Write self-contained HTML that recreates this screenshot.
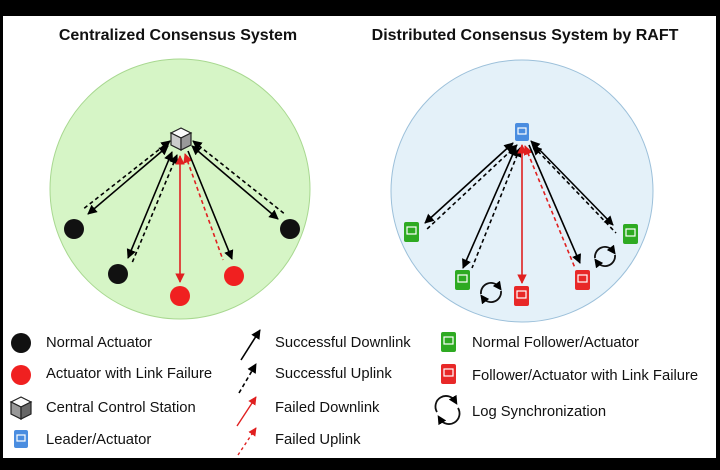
<!DOCTYPE html>
<html><head><meta charset="utf-8"><style>
html,body{margin:0;padding:0;background:#000;}
body{width:720px;height:470px;overflow:hidden;position:relative;font-family:"Liberation Sans",sans-serif;}
</style></head><body>
<svg width="720" height="470" viewBox="0 0 720 470" xmlns="http://www.w3.org/2000/svg" style="position:absolute;left:0;top:0">
<defs>
<marker id="ab" viewBox="0 0 10 10" refX="9" refY="5" markerWidth="6" markerHeight="6" orient="auto-start-reverse"><path d="M0,0 L10,5 L0,10 z" fill="#000"/></marker>
<marker id="ar" viewBox="0 0 10 10" refX="9" refY="5" markerWidth="6" markerHeight="6" orient="auto-start-reverse"><path d="M0,0 L10,5 L0,10 z" fill="#e02020"/></marker>
<marker id="as" viewBox="0 0 10 10" refX="5" refY="5" markerWidth="5" markerHeight="5" orient="auto"><path d="M0,0 L10,5 L0,10 z" fill="#000"/></marker>
</defs>
<rect x="3" y="16" width="713" height="442" fill="#fff"/>
<text x="178" y="40" text-anchor="middle" font-size="16" font-weight="bold" fill="#111">Centralized Consensus System</text>
<text x="525" y="40" text-anchor="middle" font-size="16" font-weight="bold" fill="#111">Distributed Consensus System by RAFT</text>
<circle cx="180" cy="189" r="130" fill="#d6f5c6" stroke="#a8d890" stroke-width="1"/>
<circle cx="522" cy="191" r="131" fill="#e4f1f9" stroke="#9cc0da" stroke-width="1"/>
<g stroke-width="1.6" fill="none">
<line x1="168" y1="146" x2="88" y2="214" stroke="#000" marker-start="url(#ab)" marker-end="url(#ab)"/>
<line x1="170" y1="141" x2="82" y2="210" stroke="#000" stroke-dasharray="4,3" marker-start="url(#ab)"/>
<line x1="172" y1="152" x2="128" y2="258" stroke="#000" marker-start="url(#ab)" marker-end="url(#ab)"/>
<line x1="177" y1="155" x2="132" y2="263" stroke="#000" stroke-dasharray="4,3" marker-start="url(#ab)"/>
<line x1="180" y1="156" x2="180" y2="282" stroke="#e02020" marker-start="url(#ar)" marker-end="url(#ar)"/>
<line x1="185" y1="154" x2="223" y2="260" stroke="#e02020" stroke-dasharray="4,3" marker-start="url(#ar)"/>
<line x1="188" y1="151" x2="232" y2="259" stroke="#000" marker-end="url(#ab)"/>
<line x1="192" y1="146" x2="278" y2="219" stroke="#000" marker-start="url(#ab)" marker-end="url(#ab)"/>
<line x1="193" y1="141" x2="286" y2="215" stroke="#000" stroke-dasharray="4,3" marker-start="url(#ab)"/>
<line x1="513" y1="143" x2="425" y2="223" stroke="#000" marker-start="url(#ab)" marker-end="url(#ab)"/>
<line x1="517" y1="145" x2="426" y2="230" stroke="#000" stroke-dasharray="4,3" marker-start="url(#ab)"/>
<line x1="516" y1="147" x2="463" y2="268" stroke="#000" marker-start="url(#ab)" marker-end="url(#ab)"/>
<line x1="520" y1="148" x2="472" y2="268" stroke="#000" stroke-dasharray="4,3" marker-start="url(#ab)"/>
<line x1="522" y1="145" x2="522" y2="283" stroke="#e02020" marker-start="url(#ar)" marker-end="url(#ar)"/>
<line x1="525" y1="146" x2="575" y2="268" stroke="#e02020" stroke-dasharray="4,3" marker-start="url(#ar)"/>
<line x1="529" y1="145" x2="580" y2="263" stroke="#000" marker-end="url(#ab)"/>
<line x1="531" y1="141" x2="613" y2="225" stroke="#000" marker-start="url(#ab)" marker-end="url(#ab)"/>
<line x1="533" y1="146" x2="616" y2="233" stroke="#000" stroke-dasharray="4,3" marker-start="url(#ab)"/>
</g>
<circle cx="74" cy="229" r="10" fill="#111"/>
<circle cx="118" cy="274" r="10" fill="#111"/>
<circle cx="290" cy="229" r="10" fill="#111"/>
<circle cx="180" cy="296" r="10" fill="#f02020"/>
<circle cx="234" cy="276" r="10" fill="#f02020"/>
<g transform="translate(181,139)" stroke="#222" stroke-width="1.2">
<path d="M0,-11 L10,-6 L0,-1 L-10,-6 z" fill="#fafafa"/>
<path d="M-10,-6 L0,-1 L0,11 L-10,6 z" fill="#ccc"/>
<path d="M10,-6 L0,-1 L0,11 L10,6 z" fill="#999"/>
</g>
<g>
<rect x="515" y="123" width="14" height="18" rx="2" fill="#4a8de0"/><rect x="518" y="128" width="8" height="6" fill="none" stroke="#fff" stroke-width="1.2"/>
<rect x="404" y="222" width="15" height="20" rx="2" fill="#2eaa22"/><rect x="407" y="227" width="9" height="7" fill="none" stroke="#fff" stroke-width="1.2"/>
<rect x="455" y="270" width="15" height="20" rx="2" fill="#2eaa22"/><rect x="458" y="275" width="9" height="7" fill="none" stroke="#fff" stroke-width="1.2"/>
<rect x="623" y="224" width="15" height="20" rx="2" fill="#2eaa22"/><rect x="626" y="229" width="9" height="7" fill="none" stroke="#fff" stroke-width="1.2"/>
<rect x="514" y="286" width="15" height="20" rx="2" fill="#e82828"/><rect x="517" y="291" width="9" height="7" fill="none" stroke="#fff" stroke-width="1.2"/>
<rect x="575" y="270" width="15" height="20" rx="2" fill="#e82828"/><rect x="578" y="275" width="9" height="7" fill="none" stroke="#fff" stroke-width="1.2"/>
</g>
<g fill="none" stroke="#111" stroke-width="1.8">
<path d="M481,294 A10,10 0 0 1 499,287" marker-end="url(#as)"/><path d="M501,291 A10,10 0 0 1 483,298" marker-end="url(#as)"/>
<path d="M595,258 A10,10 0 0 1 613,251" marker-end="url(#as)"/><path d="M615,255 A10,10 0 0 1 597,262" marker-end="url(#as)"/>
<path d="M437,412 A10,10 0 0 1 455,401" marker-end="url(#as)"/><path d="M458,408 A10,10 0 0 1 440,419" marker-end="url(#as)"/>
</g>
<g font-size="14.8" fill="#111">
<circle cx="21" cy="343" r="10" fill="#111"/><text x="46" y="347">Normal Actuator</text>
<circle cx="21" cy="375" r="10" fill="#f02020"/><text x="46" y="378">Actuator with Link Failure</text>
<g transform="translate(21,408)" stroke="#222" stroke-width="1.2">
<path d="M0,-11 L10,-6 L0,-1 L-10,-6 z" fill="#fafafa"/>
<path d="M-10,-6 L0,-1 L0,11 L-10,6 z" fill="#999"/>
<path d="M10,-6 L0,-1 L0,11 L10,6 z" fill="#666"/>
</g><text x="46" y="412">Central Control Station</text>
<rect x="14" y="430" width="14" height="18" rx="2" fill="#4a8de0"/><rect x="17" y="435" width="8" height="6" fill="none" stroke="#fff" stroke-width="1.2"/>
<text x="46" y="444">Leader/Actuator</text>
<line x1="241" y1="360" x2="260" y2="330" stroke="#000" stroke-width="1.6" marker-end="url(#ab)"/><text x="275" y="347">Successful Downlink</text>
<line x1="239" y1="393" x2="256" y2="364" stroke="#000" stroke-width="1.6" stroke-dasharray="4,3" marker-end="url(#ab)"/><text x="275" y="378">Successful Uplink</text>
<line x1="237" y1="426" x2="256" y2="397" stroke="#e02020" stroke-width="1.4" marker-end="url(#ar)"/><text x="275" y="412">Failed Downlink</text>
<line x1="238" y1="455" x2="256" y2="428" stroke="#e02020" stroke-width="1.4" stroke-dasharray="3,3" marker-end="url(#ar)"/><text x="275" y="444">Failed Uplink</text>
<rect x="441" y="332" width="15" height="20" rx="2" fill="#2eaa22"/><rect x="444" y="337" width="9" height="7" fill="none" stroke="#fff" stroke-width="1.2"/>
<text x="472" y="347">Normal Follower/Actuator</text>
<rect x="441" y="364" width="15" height="20" rx="2" fill="#e82828"/><rect x="444" y="369" width="9" height="7" fill="none" stroke="#fff" stroke-width="1.2"/>
<text x="472" y="380">Follower/Actuator with Link Failure</text>
<text x="472" y="416">Log Synchronization</text>
</g>
</svg>
</body></html>
